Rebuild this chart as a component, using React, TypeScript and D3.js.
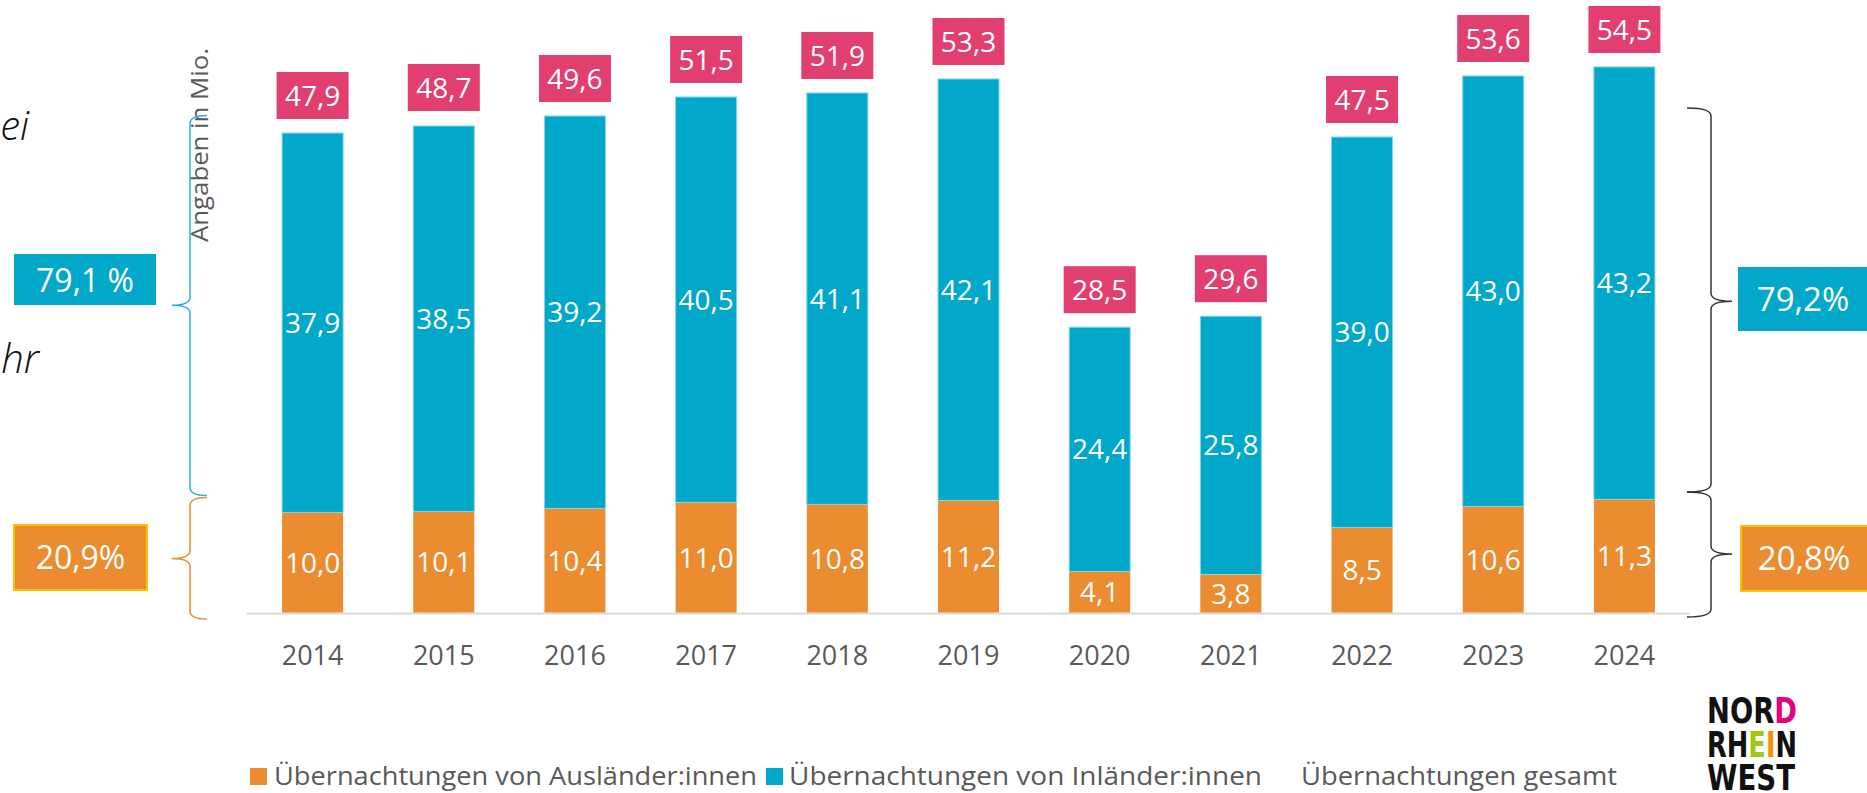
import React from 'react';
import * as d3 from 'd3';

const years = ['2014', '2015', '2016', '2017', '2018', '2019', '2020', '2021', '2022', '2023', '2024'];
const auslaender = [10.0, 10.1, 10.4, 11.0, 10.8, 11.2, 4.1, 3.8, 8.5, 10.6, 11.3];
const inlaender = [37.9, 38.5, 39.2, 40.5, 41.1, 42.1, 24.4, 25.8, 39.0, 43.0, 43.2];
const gesamt = [47.9, 48.7, 49.6, 51.5, 51.9, 53.3, 28.5, 29.6, 47.5, 53.6, 54.5];

const legendLabels = [
  'Übernachtungen von Ausländer:innen',
  'Übernachtungen von Inländer:innen',
  'Übernachtungen gesamt',
];
const shareLeft = ['79,1 %', '20,9%'];
const shareRight = ['79,2%', '20,8%'];

const W = 1867;
const H = 793;
const FONT = "'Open Sans', 'Segoe UI', sans-serif";

const BLUE = '#02A8C9';
const ORANGE = '#EA8C2F';
const PINK = '#E03F70';
const YELLOW = '#FFC000';

const fmt = (v: number) => v.toFixed(1).replace('.', ',');

// curly brace, point side = px, tips on the other side
function brace(tipX: number, vx: number, px: number, top: number, mid: number, bottom: number) {
  const r = 8;
  return `M${tipX},${top} Q${vx},${top} ${vx},${top + r} L${vx},${mid - r} Q${vx},${mid} ${px},${mid}`
    + ` Q${vx},${mid} ${vx},${mid + r} L${vx},${bottom - r} Q${vx},${bottom} ${tipX},${bottom}`;
}

export default function App() {
  const x = d3.scaleBand<string>().domain(years).range([247, 1690]).paddingInner(0.535).paddingOuter(0.2675);
  const y = d3.scaleLinear().domain([0, 60]).range([612.5, 11.9]);

  const rows = years.map((yr, i) => ({ year: yr, aus: auslaender[i], inl: inlaender[i], total: gesamt[i] }));
  const series = d3.stack<any>().keys(['aus', 'inl'])(rows);
  const colors = [ORANGE, BLUE];
  const bw = x.bandwidth();

  const boxW = 72;
  const boxH = 47;

  return (
    <svg width={W} height={H} style={{ position: 'absolute', left: 0, top: 0, background: '#fff' }} fontFamily={FONT}>
      {/* clipped slide text on the left */}
      <text x={29} y={140} textAnchor="end" fontSize={40} fontStyle="italic" fontWeight={300} fill="#111">ei</text>
      <text x={39} y={373} textAnchor="end" fontSize={40} fontStyle="italic" fontWeight={300} fill="#111">hr</text>

      {/* unit label */}
      <text transform="translate(208,242) rotate(-90)" fontSize={23} fill="#595959" textLength={194} lengthAdjust="spacingAndGlyphs">Angaben in Mio.</text>

      {/* left braces and share boxes */}
      <path d={brace(207, 190, 172, y(49.65), y(30.7), y(11.7))} fill="none" stroke="#29B0E0" strokeWidth={1.5} />
      <path d={brace(207, 190, 172, y(11.5), y(5.4), y(-0.65))} fill="none" stroke={ORANGE} strokeWidth={1.5} />
      <rect x={14} y={254} width={142} height={51} fill={BLUE} />
      <text x={85} y={280} dy="0.36em" textAnchor="middle" fontSize={32} fill="#fff">{shareLeft[0]}</text>
      <rect x={14} y={525} width={133} height={65} fill={ORANGE} stroke={YELLOW} strokeWidth={2} />
      <text x={80.5} y={557.5} dy="0.36em" textAnchor="middle" fontSize={32} fill="#fff">{shareLeft[1]}</text>

      {/* axis line */}
      <line x1={247} x2={1690} y1={613.5} y2={613.5} stroke="#D9D9D9" strokeWidth={2} />

      {/* stacked bars */}
      {series.map((s, si) => (
        <g key={s.key}>
          {s.map((d, i) => (
            <rect key={i} x={x(years[i])} y={y(d[1])} width={bw} height={y(d[0]) - y(d[1])}
              fill={colors[si]} stroke={si === 1 ? '#86D4E4' : 'none'} strokeWidth={si === 1 ? 1 : 0} />
          ))}
          {s.map((d, i) => (
            <text key={'t' + i} x={(x(years[i]) as number) + bw / 2} y={(y(d[0]) + y(d[1])) / 2} dy="0.36em"
              textAnchor="middle" fontSize={28} fill="#fff">{fmt(d[1] - d[0])}</text>
          ))}
        </g>
      ))}

      {/* total labels */}
      {rows.map((r) => {
        const cx = (x(r.year) as number) + bw / 2;
        const bottom = y(r.total) - 14;
        return (
          <g key={'tot' + r.year}>
            <rect x={cx - boxW / 2} y={bottom - boxH} width={boxW} height={boxH} fill={PINK} />
            <text x={cx} y={bottom - boxH / 2} dy="0.36em" textAnchor="middle" fontSize={28} fill="#fff">{fmt(r.total)}</text>
          </g>
        );
      })}

      {/* year labels */}
      {years.map((yr) => (
        <text key={yr} x={(x(yr) as number) + bw / 2} y={665} textAnchor="middle" fontSize={27} fill="#595959">{yr}</text>
      ))}

      {/* right braces and share boxes */}
      <path d={brace(1687, 1711, 1732, y(50.4), y(31.1), y(12.05))} fill="none" stroke="#333" strokeWidth={1.5} />
      <path d={brace(1687, 1711, 1732, y(12.05), y(5.85), y(-0.45))} fill="none" stroke="#333" strokeWidth={1.5} />
      <rect x={1738} y={267} width={135} height={64} fill={BLUE} />
      <text x={1803} y={299} dy="0.36em" textAnchor="middle" fontSize={33} fill="#fff">{shareRight[0]}</text>
      <rect x={1741} y={526} width={132} height={65} fill={ORANGE} stroke={YELLOW} strokeWidth={2} />
      <text x={1804} y={558.5} dy="0.36em" textAnchor="middle" fontSize={33} fill="#fff">{shareRight[1]}</text>

      {/* legend */}
      <rect x={250} y={768} width={17} height={17} fill={ORANGE} />
      <text x={274} y={785} fontSize={26} fill="#595959" textLength={483} lengthAdjust="spacingAndGlyphs">{legendLabels[0]}</text>
      <rect x={766} y={768} width={17} height={17} fill={BLUE} />
      <text x={789} y={785} fontSize={26} fill="#595959" textLength={473} lengthAdjust="spacingAndGlyphs">{legendLabels[1]}</text>
      <text x={1301} y={785} fontSize={26} fill="#595959" textLength={316} lengthAdjust="spacingAndGlyphs">{legendLabels[2]}</text>

      {/* logo */}
      <g fontFamily="'DejaVu Sans Condensed', 'DejaVu Sans', sans-serif" fontWeight="bold" fontSize={35} fill="#111">
        <text x={1707} y={723} textLength={90} lengthAdjust="spacingAndGlyphs">NOR<tspan fill="#E5007D">D</tspan></text>
        <text x={1707} y={757} textLength={90} lengthAdjust="spacingAndGlyphs">RH<tspan fill="#A3C614">E</tspan><tspan fill="#F29400">I</tspan>N</text>
        <text x={1707} y={790} textLength={88} lengthAdjust="spacingAndGlyphs">WEST</text>
      </g>
    </svg>
  );
}
